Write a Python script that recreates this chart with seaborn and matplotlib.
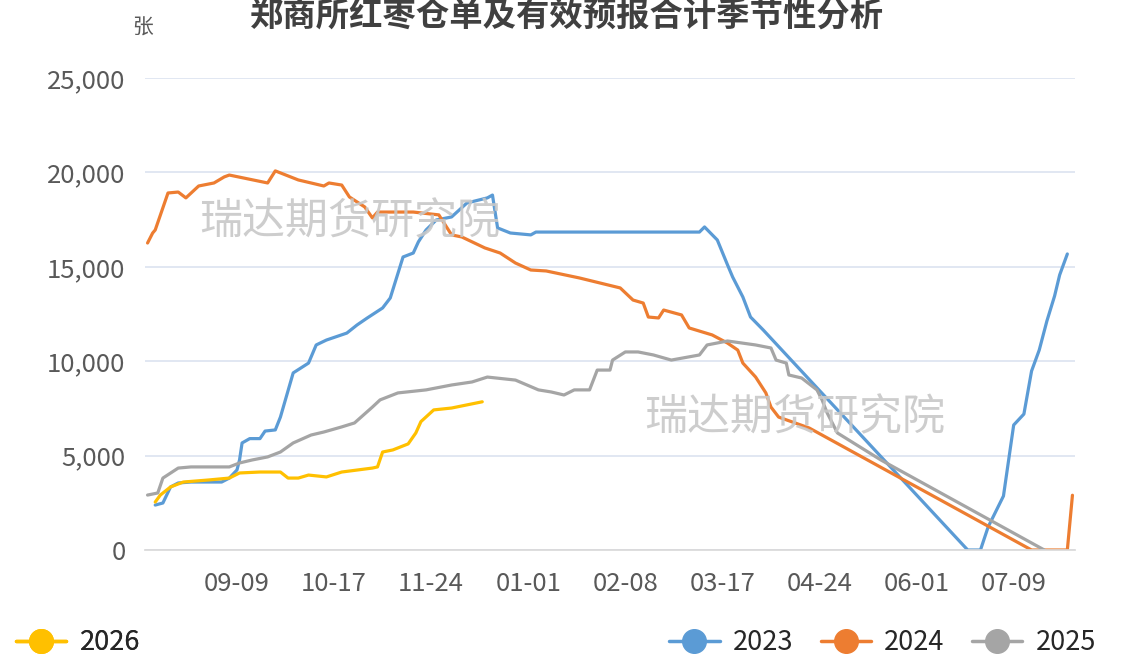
import pandas as pd
import seaborn as sns
import matplotlib.pyplot as plt
import matplotlib.dates as mdates
from matplotlib.lines import Line2D
from matplotlib.ticker import FuncFormatter

# 郑商所红枣仓单+有效预报，季节性（横轴为月-日）
title = "郑商所红枣仓单及有效预报合计季节性分析"
unit = "张"
watermark = "瑞达期货研究院"

dates_2023 = ["08-08", "08-11", "08-14", "08-17", "08-22", "09-03", "09-06", "09-09", "09-10",
              "09-11", "09-14", "09-18", "09-20", "09-24", "09-26", "10-01", "10-04", "10-07",
              "10-10", "10-14", "10-22", "10-26", "10-30", "11-05", "11-08", "11-13", "11-17",
              "11-19", "11-22", "11-26", "12-02", "12-08", "12-16", "12-18", "12-20", "12-25",
              "01-02", "01-04", "02-03", "03-08", "03-10", "03-15", "03-19", "03-21", "03-25",
              "03-28", "04-02", "06-21", "06-26", "06-29", "07-05", "07-09", "07-13", "07-16",
              "07-19", "07-22", "07-25", "07-27", "07-30"]
values_2023 = [2380, 2490, 3340, 3550, 3600, 3600, 3810, 4240, 4770,
               5670, 5900, 5900, 6300, 6360, 7040, 9380, 9640, 9900,
               10860, 11120, 11490, 11920, 12290, 12820, 13350, 15520, 15730,
               16320, 16950, 17480, 17640, 18380, 18650, 18800, 17060, 16790,
               16690, 16840, 16840, 16840, 17110, 16420, 15100, 14460, 13400,
               12340, 11650, 0, 0, 1220, 2860, 6620, 7200, 9480,
               10590, 12130, 13450, 14570, 15680]

dates_2024 = ["08-05", "08-07", "08-08", "08-13", "08-17", "08-20", "08-25", "08-31", "09-04",
              "09-06", "09-21", "09-24", "09-27", "10-03", "10-13", "10-15", "10-20", "10-23",
              "10-29", "11-01", "11-03", "11-17", "11-27", "12-02", "12-06", "12-15", "12-21",
              "12-27", "01-02", "01-08", "01-21", "02-06", "02-11", "02-15", "02-17", "02-21",
              "02-23", "03-01", "03-04", "03-13", "03-19", "03-23", "03-25", "03-30", "04-03",
              "04-05", "04-08", "04-20", "07-16", "07-30", "08-01"]
values_2024 = [16260, 16790, 16950, 18910, 18960, 18650, 19280, 19440, 19760,
               19860, 19440, 20080, 19920, 19600, 19280, 19440, 19330, 18700,
               18170, 17590, 17900, 17900, 17750, 16690, 16580, 16000, 15730,
               15200, 14830, 14780, 14410, 13880, 13240, 13080, 12340, 12290,
               12710, 12450, 11760, 11390, 10960, 10590, 9900, 9160, 8320,
               7570, 7040, 6460, 0, 0, 2900]

dates_2025 = ["08-05", "08-09", "08-11", "08-17", "08-22", "09-06", "09-10", "09-15", "09-21",
              "09-26", "10-01", "10-08", "10-13", "10-20", "10-25", "11-01", "11-04", "11-11",
              "11-22", "12-02", "12-10", "12-16", "12-27", "01-05", "01-10", "01-15", "01-19",
              "01-25", "01-28", "02-02", "02-03", "02-08", "02-13", "02-19", "02-26", "03-08",
              "03-11", "03-19", "03-30", "04-05", "04-07", "04-11", "04-12", "04-17", "04-23",
              "04-25", "04-27", "05-01", "05-18", "07-21"]
values_2025 = [2910, 3020, 3810, 4340, 4400, 4400, 4610, 4770, 4930,
               5190, 5670, 6090, 6250, 6520, 6730, 7570, 7950, 8320,
               8480, 8740, 8900, 9160, 9000, 8480, 8370, 8210, 8480,
               8480, 9530, 9530, 10060, 10490, 10490, 10330, 10060, 10330,
               10860, 11070, 10860, 10700, 10060, 9900, 9270, 9110, 8480,
               7950, 7260, 6200, 4770, 0]

dates_2026 = ["08-08", "08-10", "08-14", "08-19", "08-29", "09-06", "09-10", "09-18", "09-26",
              "09-29", "10-03", "10-07", "10-14", "10-20", "11-01", "11-03", "11-05", "11-09",
              "11-15", "11-18", "11-20", "11-25", "12-02", "12-14"]
values_2026 = [2540, 2910, 3340, 3600, 3710, 3810, 4080, 4130, 4130,
               3810, 3810, 3970, 3870, 4130, 4340, 4400, 5190, 5300,
               5620, 6200, 6800, 7420, 7520, 7850]

years = ["2023", "2024", "2025", "2026"]
colors = {"2023": "#5B9BD5", "2024": "#ED7D31", "2025": "#A5A5A5", "2026": "#FFC000"}
tick_labels = ["09-09", "10-17", "11-24", "01-01", "02-08", "03-17", "04-24", "06-01", "07-09"]


def season_date(md):
    # 季节年：8月初到次年8月初
    d = pd.Timestamp(f"2024-{md}")
    if d > pd.Timestamp("2024-08-03"):
        d = d - pd.DateOffset(years=1)
    return d


frames = []
for yr, ds, vs in zip(years,
                      [dates_2023, dates_2024, dates_2025, dates_2026],
                      [values_2023, values_2024, values_2025, values_2026]):
    frames.append(pd.DataFrame({"date": [season_date(m) for m in ds], "value": vs, "year": yr}))
df = pd.concat(frames, ignore_index=True)

sns.set_theme(style="white")
plt.rcParams["font.family"] = ["Noto Sans CJK SC", "DejaVu Sans"]

fig = plt.figure(figsize=(11.3, 6.6), dpi=100)
ax = fig.add_axes([145 / 1130, 110 / 660, 930 / 1130, 472 / 660])

sns.lineplot(data=df, x="date", y="value", hue="year", palette=colors,
             linewidth=2.3, legend=False, sort=False, estimator=None, ax=ax)

ax.set_ylim(0, 25000)
ax.set_xlim(season_date("08-04"), season_date("08-02"))
ax.set_yticks([0, 5000, 10000, 15000, 20000, 25000])
ax.yaxis.set_major_formatter(FuncFormatter(lambda v, p: f"{v:,.0f}"))
ax.set_xticks([season_date(t) for t in tick_labels])
ax.xaxis.set_major_formatter(mdates.DateFormatter("%m-%d"))
ax.set_xlabel("")
ax.set_ylabel("")

ax.grid(axis="y", color="#DCE3F0", linewidth=1.2)
ax.grid(axis="x", visible=False)
for s in ["top", "right", "left"]:
    ax.spines[s].set_visible(False)
ax.spines["bottom"].set_color("#D9D9D9")
ax.tick_params(axis="y", length=0, pad=14, labelsize=18.5, labelcolor="#595959")
ax.tick_params(axis="x", length=0, pad=15, labelsize=18.5, labelcolor="#595959")

# 标题、单位、水印
fig.text(0.502, 1 - 1 / 660, title, ha="center", va="top", fontsize=24,
         fontweight="bold", color="#404040")
fig.text(143 / 1130, 1 - 28 / 660, unit, ha="center", va="center", fontsize=15, color="#595959")
fig.text(350 / 1130, 1 - 222 / 660, watermark, ha="center", va="center", fontsize=31,
         color="#C8C8C8", alpha=0.9)
fig.text(795 / 1130, 1 - 418 / 660, watermark, ha="center", va="center", fontsize=31,
         color="#C8C8C8", alpha=0.9)


def handle(c):
    return Line2D([], [], color=c, linewidth=2.5, marker="o", markersize=17)


leg_left = fig.legend([handle(colors["2026"])], ["2026"], loc="center left",
                      bbox_to_anchor=(0.0, 1 - 643 / 660), frameon=False, fontsize=19.5,
                      handlelength=1.85, handletextpad=0.5, borderaxespad=0.2)
fig.legend([handle(colors[y]) for y in years[:3]], years[:3], loc="center right",
           bbox_to_anchor=(1112 / 1130, 1 - 643 / 660), frameon=False, fontsize=19.5,
           ncol=3, handlelength=1.85, handletextpad=0.5, columnspacing=1.0, borderaxespad=0.2)
fig.add_artist(leg_left)

plt.savefig("out.png", dpi=100)
